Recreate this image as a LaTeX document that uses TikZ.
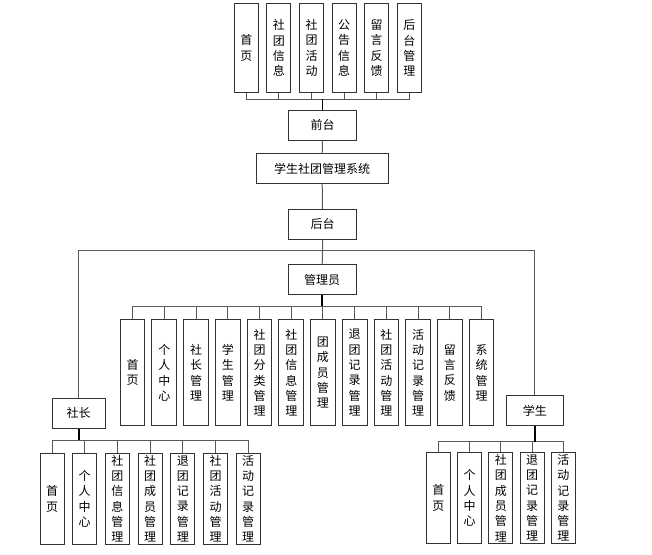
\documentclass[tikz,border=0pt]{standalone}
\usepackage{fontspec}
\newfontfamily\cjk{Noto Sans CJK SC}
\begin{document}
\begin{tikzpicture}[x=1pt,y=-1pt,
  box/.style={draw=black!80,line width=1pt,inner sep=0pt,
    font=\cjk\fontsize{12}{15.3}\selectfont},
  vbox/.style={box,align=center,minimum width=24pt},
  hbox/.style={box,minimum height=29.5pt},
  link/.style={draw=black!65,line width=1pt},
  stem/.style={draw=black,line width=1.6pt}]
\useasboundingbox (0,0) rectangle (652,554);
\fill[white] (0,0) rectangle (652,554);

% front-end modules
\foreach \t [count=\i from 0] in {首\\页,社\\团\\信\\息,社\\团\\活\\动,公\\告\\信\\息,留\\言\\反\\馈,后\\台\\管\\理}
  \node[vbox,minimum height=89.4pt] (f\i) at ({246.3+32.6*\i},48) {\t};

\node[hbox,minimum width=68.4pt] (qt) at (322.5,125.3) {前台};
\node[hbox,minimum width=131.7pt] (sys) at (322.2,168.7) {学生社团管理系统};
\node[hbox,minimum width=68.4pt] (ht) at (322.5,224.3) {后台};
\node[hbox,minimum width=67.7pt] (adm) at (322.2,279.5) {管理员};
\node[hbox,minimum width=52.7pt] (sz) at (78.7,413.3) {社长};
\node[hbox,minimum width=57pt] (xs) at (534.8,410.7) {学生};

% administrator modules
\foreach \t [count=\i from 0] in {首\\页,个\\人\\中\\心,社\\长\\管\\理,学\\生\\管\\理,社\\团\\分\\类\\管\\理,社\\团\\信\\息\\管\\理,团\\成\\员\\管\\理,退\\团\\记\\录\\管\\理,社\\团\\活\\动\\管\\理,活\\动\\记\\录\\管\\理,留\\言\\反\\馈,系\\统\\管\\理}
  \node[vbox,minimum height=106pt,minimum width=24.7pt] (a\i) at ({132.6+31.73*\i},372.7) {\t};

% club leader modules
\foreach \t [count=\i from 0] in {首\\页,个\\人\\中\\心,社\\团\\信\\息\\管\\理,社\\团\\成\\员\\管\\理,退\\团\\记\\录\\管\\理,社\\团\\活\\动\\管\\理,活\\动\\记\\录\\管\\理}
  \node[vbox,minimum height=91pt] (s\i) at ({52+32.7*\i},498.8) {\t};

% student modules
\foreach \t [count=\i from 0] in {首\\页,个\\人\\中\\心,社\\团\\成\\员\\管\\理,退\\团\\记\\录\\管\\理,活\\动\\记\\录\\管\\理}
  \node[vbox,minimum height=90.6pt] (t\i) at ({438.3+31.25*\i},498) {\t};

% bus points
\coordinate (fbus) at (322.5,99);
\coordinate (bbus) at (322.5,250.7);
\coordinate (abus) at (322.2,306);
\coordinate (sbus) at (78.7,440);
\coordinate (tbus) at (534.8,441.7);

% connectors
\foreach \i in {0,...,5} \draw[link] (f\i.south) |- (fbus);
\draw[stem] (fbus) -- (qt.north);
\draw[link] (qt.south) -- (sys.north);
\draw[link] (sys.south) -- (ht.north);
\draw[link] (ht.south) -- (bbus) -- (adm.north);
\draw[link] (sz.north) |- (bbus);
\draw[link] (xs.north) |- (bbus);

\foreach \i in {0,...,11} \draw[link] (a\i.north) |- (abus);
\draw[stem] (adm.south) -- (abus);
\foreach \i in {0,...,6} \draw[link] (s\i.north) |- (sbus);
\draw[stem] (sz.south) -- (sbus);
\foreach \i in {0,...,4} \draw[link] (t\i.north) |- (tbus);
\draw[stem] (xs.south) -- (tbus);
\end{tikzpicture}
\end{document}
